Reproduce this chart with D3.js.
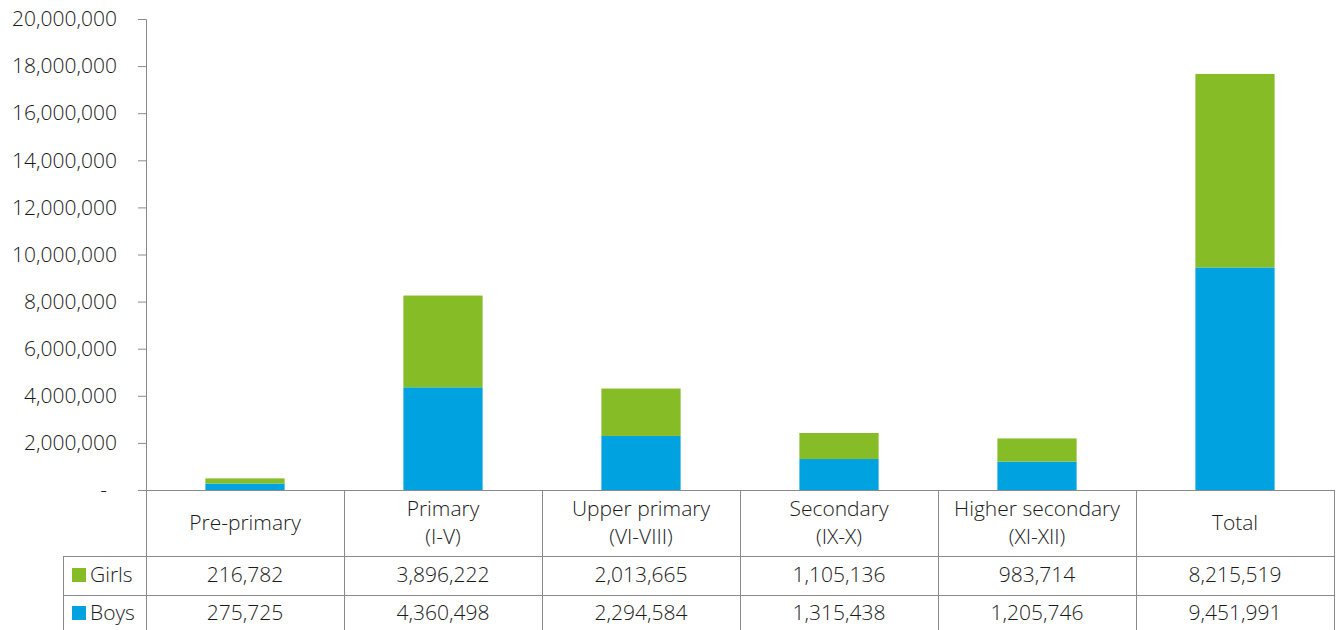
<!DOCTYPE html>
<html>
<head>
<meta charset="utf-8">
<script src="https://cdn.jsdelivr.net/npm/d3@7"></script>
<style>
  body { margin: 0; background: #fff; }
  text { font-family: "Open Sans", "Noto Sans", sans-serif; font-weight: 300; fill: #1a1a1a; }
</style>
</head>
<body>
<script>
width = 1339;
height = 630;
margin = { top: 19, right: 5, bottom: 140, left: 146 }
var fontSize = 21;

// data
var categories = ["Pre-primary", "Primary\n(I-V)", "Upper primary\n(VI-VIII)", "Secondary\n(IX-X)", "Higher secondary\n(XI-XII)", "Total"];
var girls = [216782, 3896222, 2013665, 1105136, 983714, 8215519];
var boys = [275725, 4360498, 2294584, 1315438, 1205746, 9451991];
var yTicks = [0, 2000000, 4000000, 6000000, 8000000, 10000000, 12000000, 14000000, 16000000, 18000000, 20000000];

var keys = ["Boys", "Girls"];
var color = d3.scaleOrdinal().domain(keys).range(["#00a3e0", "#86bc25"]);
var lineColor = "#8a8a8a";

var data = categories.map(function(c, i){ return { cat: c, Boys: boys[i], Girls: girls[i] }; });
var series = d3.stack().keys(keys)(data);

var plotRight = 1334;
var plotBottom = 490;

x = d3.scaleBand()
    .domain(categories)
    .range([margin.left, plotRight])
    .paddingInner(0.6)
    .paddingOuter(0.3);

var col = d3.scaleBand()
    .domain(categories)
    .range([margin.left, plotRight]);

y = d3.scaleLinear()
    .domain([0, 20000000])
    .range([plotBottom, margin.top]);

const svg = d3.select('body')
    .append("svg")
    .attr("width", width)
    .attr("height", height);

// bars
svg.append("g")
    .selectAll("g")
    .data(series)
    .join("g")
    .attr("fill", d => color(d.key))
    .selectAll("rect")
    .data(d => d)
    .join("rect")
    .attr("x", d => x(d.data.cat))
    .attr("y", d => y(d[1]))
    .attr("width", x.bandwidth())
    .attr("height", d => y(d[0]) - y(d[1]));

// y axis
yAxis = g => g
    .attr("transform", `translate(${margin.left},0)`)
    .call(d3.axisLeft(y)
        .tickValues(yTicks)
        .tickSize(8)
        .tickPadding(21)
        .tickFormat(d => d === 0 ? "-" : d3.format(",")(d)))
    .call(g => g.select(".domain").attr("stroke", lineColor).attr("d", `M-8,${y(20000000)}.5H0.5V${plotBottom}`))
    .call(g => g.selectAll(".tick line").attr("stroke", lineColor))
    .call(g => g.selectAll(".tick text")
        .attr("font-size", fontSize)
        .attr("font-family", null)
        .attr("fill", "#1a1a1a")
        .attr("dx", d => d === 0 ? -10 : 0));

svg.append("g").call(yAxis);

// data table
var legendLeft = 63;
var tbl = svg.append("g").attr("class", "table");

// horizontal lines
[plotBottom, 556, 595].forEach(function(yy, i){
    tbl.append("line")
        .attr("x1", i === 0 ? margin.left : legendLeft)
        .attr("x2", plotRight)
        .attr("y1", yy + 0.5)
        .attr("y2", yy + 0.5)
        .attr("stroke", lineColor);
});
// vertical lines
var vx = categories.map(c => col(c)).concat([plotRight]);
vx.forEach(function(xx){
    tbl.append("line")
        .attr("x1", xx + 0.5).attr("x2", xx + 0.5)
        .attr("y1", plotBottom).attr("y2", height)
        .attr("stroke", lineColor);
});
tbl.append("line")
    .attr("x1", legendLeft + 0.5).attr("x2", legendLeft + 0.5)
    .attr("y1", 556).attr("y2", height)
    .attr("stroke", lineColor);

// header labels
categories.forEach(function(c){
    var lines = c.split("\n");
    var cx = col(c) + col.bandwidth() / 2;
    var t = tbl.append("text")
        .attr("x", cx)
        .attr("text-anchor", "middle")
        .attr("font-size", fontSize);
    lines.forEach(function(l, j){
        var yy = lines.length === 1 ? 523 : 509 + j * 28;
        t.append("tspan").attr("x", cx).attr("y", yy).attr("dy", "0.35em").text(l);
    });
});

// value rows
var rows = [{ key: "Girls", vals: girls, yc: 575 }, { key: "Boys", vals: boys, yc: 613 }];
rows.forEach(function(r){
    tbl.append("rect")
        .attr("x", 72).attr("y", r.yc - 7)
        .attr("width", 14).attr("height", 14)
        .attr("fill", color(r.key));
    tbl.append("text")
        .attr("x", 90).attr("y", r.yc).attr("dy", "0.35em")
        .attr("font-size", fontSize)
        .text(r.key);
    r.vals.forEach(function(v, i){
        tbl.append("text")
            .attr("x", col(categories[i]) + col.bandwidth() / 2)
            .attr("y", r.yc).attr("dy", "0.35em")
            .attr("text-anchor", "middle")
            .attr("font-size", fontSize)
            .text(d3.format(",")(v));
    });
});
</script>
</body>
</html>
